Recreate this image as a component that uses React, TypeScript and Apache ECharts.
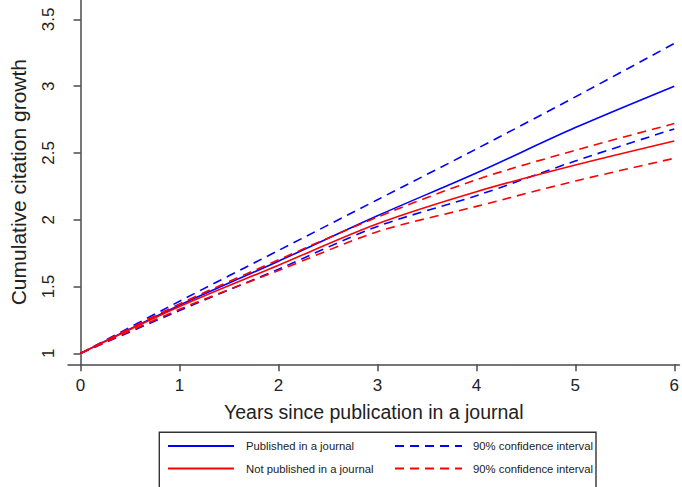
import React, { useEffect, useRef } from "react";
import * as echarts from "echarts";

const years = [0, 1, 2, 3, 4, 5, 6];
const published = [1, 1.36, 1.69, 2.03, 2.35, 2.69, 3.0];
const publishedUpper = [1, 1.39, 1.77, 2.15, 2.53, 2.92, 3.32];
const publishedLower = [1, 1.32, 1.63, 1.95, 2.18, 2.44, 2.68];
const notPublished = [1, 1.35, 1.66, 1.97, 2.21, 2.41, 2.59];
const notPublishedUpper = [1, 1.37, 1.7, 2.02, 2.3, 2.52, 2.72];
const notPublishedLower = [1, 1.33, 1.62, 1.91, 2.1, 2.29, 2.46];
const xTicks = [0, 1, 2, 3, 4, 5, 6];
const yTicks = [1, 1.5, 2, 2.5, 3, 3.5];

const BLUE = "#0000ff";
const RED = "#ff0000";
const AXIS = "#4a4a4a";
const FONT = "Liberation Sans, Arial, sans-serif";

const pairs = (vals: number[]) => years.map((x, i) => [x, vals[i]]);

export default function App() {
  const ref = useRef<HTMLDivElement>(null);
  useEffect(() => {
    document.body.style.margin = "0";
    const chart = echarts.init(ref.current!, null, { renderer: "svg" });
    const mk = (name: string, vals: number[], color: string, dashed: boolean) => ({
      type: "line",
      name,
      data: pairs(vals),
      symbol: "none",
      smooth: 0.3,
      lineStyle: { color, width: 1.6, type: dashed ? [9, 6] : "solid" },
      itemStyle: { color },
    });
    const ciLabel = "90% confidence interval";
    const hiddenSymbol = { color: "rgba(0,0,0,0)", borderColor: "rgba(0,0,0,0)", borderWidth: 0 };
    chart.setOption({
      animation: false,
      textStyle: { fontFamily: FONT },
      grid: { left: 66.7, right: 0, top: 0, bottom: 122.7 },
      xAxis: {
        type: "value",
        min: -0.127,
        max: 6.053,
        name: "Years since publication in a journal",
        nameLocation: "middle",
        nameGap: 38,
        nameTextStyle: { fontSize: 19.5, color: "#222", fontFamily: FONT },
        axisLine: { show: true, lineStyle: { color: AXIS, width: 1.5 } },
        axisTick: { show: true, length: 7, customValues: xTicks, lineStyle: { color: AXIS, width: 1.5 } },
        axisLabel: { customValues: xTicks, fontSize: 17, color: "#222", margin: 12.5, fontFamily: FONT },
        splitLine: { show: false },
      },
      yAxis: {
        type: "value",
        min: 0.918,
        max: 3.645,
        name: "Cumulative citation growth",
        nameLocation: "middle",
        nameGap: 39,
        nameRotate: 90,
        nameTextStyle: { fontSize: 21, color: "#222", fontFamily: FONT },
        axisLine: { show: true, lineStyle: { color: AXIS, width: 1.5 } },
        axisTick: { show: true, length: 7, customValues: yTicks, lineStyle: { color: AXIS, width: 1.5 } },
        axisLabel: { customValues: yTicks, fontSize: 17, color: "#222", margin: 11, rotate: 90, fontFamily: FONT },
        splitLine: { show: false },
      },
      legend: [
        {
          data: ["Published in a journal", "Not published in a journal"],
          orient: "vertical",
          left: 167,
          top: 440.3,
          padding: 0,
          itemWidth: 66,
          itemHeight: 14,
          itemGap: 11.4,
          itemStyle: hiddenSymbol,
          textStyle: { fontSize: 11.3, color: "#222", padding: [0, 0, 0, 7], fontFamily: FONT },
        },
        {
          data: ["CI published", "CI not published"],
          orient: "vertical",
          left: 394,
          top: 440.3,
          padding: 0,
          itemWidth: 67,
          itemHeight: 14,
          itemGap: 11.4,
          itemStyle: hiddenSymbol,
          formatter: () => ciLabel,
          textStyle: { fontSize: 11.3, color: "#222", padding: [0, 0, 0, 6], fontFamily: FONT },
        },
      ],
      graphic: [
        {
          type: "rect",
          shape: { x: 159.3, y: 432.3, width: 436.7, height: 70 },
          style: { fill: "none", stroke: "#333", lineWidth: 1.4 },
          z: -1,
        },
      ],
      series: [
        mk("Published in a journal", published, BLUE, false),
        mk("CI published", publishedUpper, BLUE, true),
        mk("CI published lower", publishedLower, BLUE, true),
        mk("Not published in a journal", notPublished, RED, false),
        mk("CI not published", notPublishedUpper, RED, true),
        mk("CI not published lower", notPublishedLower, RED, true),
      ],
    });
    return () => chart.dispose();
  }, []);
  return <div ref={ref} style={{ width: 682, height: 487 }} />;
}
